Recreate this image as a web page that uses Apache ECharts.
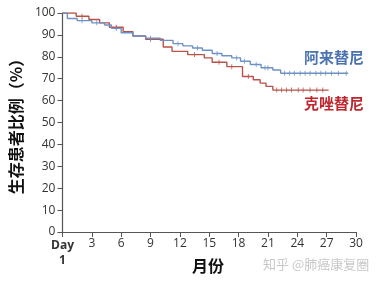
<!DOCTYPE html>
<html><head><meta charset="utf-8">
<script src="https://cdn.jsdelivr.net/npm/echarts@6/dist/echarts.min.js"></script>
<style>html,body{margin:0;padding:0;background:#fff}#c{width:381px;height:282px}</style>
</head><body><div id="c"></div>
<script>
// Kaplan-Meier step data (months, % surviving)
var alecT = [0,0.5,1.5,3,4.3,5,6,7.2,8.5,10,11.3,12.3,13.3,14.3,15.3,16.3,17.3,18.2,19.2,20.3,21.5,22.3,29.2];
var alecV = [100,97.5,96.5,95.5,94.5,93,91,89.5,88.5,87.5,86,85,84,83,81.5,80.5,79.5,78,76.5,75,74,72.5,72.5];
var crizT = [0,1.4,2.7,3.8,4.8,6.2,7.2,8.5,10.3,11.2,12.8,14.5,15.3,16.8,18.4,19.5,20.2,20.8,21.5,27.2];
var crizV = [100,98.5,97,95.5,93.5,91.5,89.5,88,84.5,82.5,81,79.5,77.5,75.5,71,69.5,68,66.5,64.8,64.8];
// censor marks
var alecCensT = [2,3.5,5.5,9,11.8,13.8,15.8,17.8,18.6,19.8,20.7,21.0,22.7,23.2,23.7,24.3,24.8,25.3,25.9,26.4,26.9,27.5,28.2,29.0];
var alecCensV = [96.5,95.5,93,88.5,86,84,81.5,79.5,78,76.5,75,75,72.5,72.5,72.5,72.5,72.5,72.5,72.5,72.5,72.5,72.5,72.5,72.5];
var crizCensT = [2,5.5,9,13.5,16,17.3,19.0,21.9,22.4,22.9,23.4,24.1,24.6,25.3,26.0,26.6];
var crizCensV = [98.5,93.5,88,81,77.5,75.5,71,64.8,64.8,64.8,64.8,64.8,64.8,64.8,64.8,64.8];
var xTicks = [0,3,6,9,12,15,18,21,24,27,30];
var seriesNames = ['阿来替尼','克唑替尼'];
var yTitle = '生存患者比例（%）';
var xTitle = '月份';

function pairs(t,v){return t.map(function(x,i){return [x,v[i]];});}
var blue = '#6f92c6', red = '#b9534a';
var chart = echarts.init(document.getElementById('c'));
var font = '"Open Sans", "Liberation Sans", sans-serif';
chart.setOption({
  animation:false,
  grid:{left:61,right:25,top:13,bottom:50},
  xAxis:{type:'value',min:0,max:30,interval:3,
    axisLine:{lineStyle:{color:'#555',width:1.2}},
    axisTick:{show:true,length:5,lineStyle:{color:'#555'}},
    splitLine:{show:false},
    axisLabel:{margin:6,color:'#333',fontSize:12,fontFamily:font,
      formatter:function(v){return v===0?'{b|Day}\n{b|1}':String(v);},
      rich:{b:{fontWeight:'bold',fontSize:12,color:'#333',fontFamily:font,lineHeight:15}}}
  },
  yAxis:{type:'value',min:0,max:100,interval:10,
    name:yTitle,nameLocation:'middle',nameRotate:90,nameGap:38,
    nameTextStyle:{fontSize:16,fontWeight:'bold',color:'#111',fontFamily:'"Noto Sans CJK SC"'},
    axisLine:{show:true,lineStyle:{color:'#555',width:1.2}},
    axisTick:{show:true,length:5,lineStyle:{color:'#555'}},
    splitLine:{show:false},
    axisLabel:{margin:7,color:'#333',fontSize:12,fontFamily:font}
  },
  series:[
    {name:seriesNames[0],type:'line',step:'end',data:pairs(alecT,alecV),symbol:'none',lineStyle:{color:blue,width:1.4},z:3},
    {name:seriesNames[1],type:'line',step:'end',data:pairs(crizT,crizV),symbol:'none',lineStyle:{color:red,width:1.4},z:2},
    {type:'scatter',data:pairs(alecCensT,alecCensV),symbol:'rect',symbolSize:[1,5],itemStyle:{color:blue},z:3},
    {type:'scatter',data:pairs(crizCensT,crizCensV),symbol:'rect',symbolSize:[1,5],itemStyle:{color:red},z:2}
  ],
  graphic:[
    {type:'text',left:304,top:50,style:{text:seriesNames[0],fill:'#4a73b0',font:'bold 15px "Noto Sans CJK SC"'}},
    {type:'text',left:304,top:96,style:{text:seriesNames[1],fill:'#c0262d',font:'bold 15px "Noto Sans CJK SC"'}},
    {type:'text',left:192,top:258,style:{text:xTitle,fill:'#111',font:'bold 16px "Noto Sans CJK SC"'}},
    {type:'text',left:263,top:258,style:{text:'知乎 @肺癌康复圈',fill:'#c8c8c8',font:'13px "Noto Sans CJK SC"'}}
  ]
});
</script></body></html>
